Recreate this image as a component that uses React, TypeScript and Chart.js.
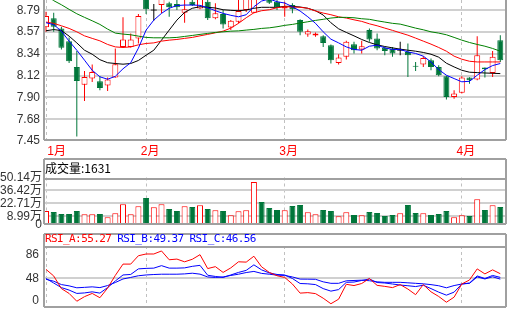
import React, { useEffect, useRef } from 'react';
import { Chart, registerables } from 'chart.js';

Chart.register(...registerables);

// ---------- data ----------
const monthLabels = ['1月', '2月', '3月', '4月'];
const monthStarts = [0, 13, 31, 54];

const opens = [8.616, 8.708, 8.605, 8.475, 8.211, 8.030, 8.092, 8.064, 8.020, 8.102,
  8.416, 8.416, 8.503, 8.920, 8.793, 8.844, 8.862, 8.855, 8.765, 8.878,
  8.810, 8.878, 8.708, 8.752, 8.615, 8.673, 8.793, 8.765, 9.050, 8.910,
  8.878, 8.810, 8.844, 8.690, 8.544, 8.533, 8.526, 8.434, 8.252, 8.314,
  8.444, 8.390, 8.588, 8.503, 8.406, 8.400, 8.382, 8.365, 8.223, 8.236,
  8.280, 8.211, 8.115, 7.903, 7.948, 8.102, 8.082, 8.205, 8.149, 8.485];
const highs = [8.776, 8.765, 8.622, 8.513, 8.375, 8.170, 8.236, 8.115, 8.102, 8.400,
  8.718, 8.554, 8.752, 8.930, 8.855, 8.920, 8.878, 8.900, 8.900, 8.900,
  8.930, 8.900, 8.862, 8.793, 8.690, 8.900, 8.930, 9.060, 9.070, 8.930,
  8.900, 8.878, 8.862, 8.700, 8.595, 8.564, 8.536, 8.440, 8.341, 8.478,
  8.468, 8.478, 8.605, 8.554, 8.416, 8.416, 8.468, 8.451, 8.262, 8.321,
  8.297, 8.228, 8.120, 7.972, 8.115, 8.105, 8.526, 8.205, 8.375, 8.536];
const lows = [8.571, 8.570, 8.390, 8.252, 7.499, 7.862, 8.057, 7.972, 7.965, 8.100,
  8.410, 8.410, 8.451, 8.752, 8.683, 8.759, 8.724, 8.793, 8.663, 8.834,
  8.800, 8.690, 8.698, 8.605, 8.588, 8.657, 8.773, 8.760, 8.910, 8.855,
  8.793, 8.724, 8.759, 8.536, 8.519, 8.519, 8.416, 8.246, 8.236, 8.287,
  8.349, 8.349, 8.468, 8.382, 8.331, 8.314, 8.331, 8.108, 8.170, 8.211,
  8.177, 8.115, 7.879, 7.886, 7.938, 8.040, 8.074, 8.102, 8.108, 8.262];
const closes = [8.731, 8.622, 8.406, 8.269, 8.067, 8.108, 8.160, 7.995, 8.082, 8.239,
  8.492, 8.492, 8.731, 8.800, 8.793, 8.910, 8.821, 8.821, 8.800, 8.844,
  8.920, 8.708, 8.759, 8.646, 8.683, 8.783, 8.910, 9.050, 8.950, 8.868,
  8.821, 8.827, 8.800, 8.570, 8.577, 8.554, 8.457, 8.280, 8.307, 8.468,
  8.382, 8.423, 8.492, 8.400, 8.375, 8.349, 8.382, 8.331, 8.213, 8.303,
  8.211, 8.126, 7.903, 7.938, 8.102, 8.074, 8.331, 8.187, 8.314, 8.280];

const ma5 = [8.663, 8.644, 8.577, 8.475, 8.382, 8.280, 8.177, 8.110, 8.085, 8.115,
  8.192, 8.254, 8.403, 8.588, 8.690, 8.759, 8.811, 8.839, 8.844, 8.844,
  8.841, 8.817, 8.786, 8.759, 8.739, 8.724, 8.745, 8.827, 8.885, 8.906,
  8.878, 8.865, 8.827, 8.783, 8.724, 8.657, 8.570, 8.495, 8.457, 8.416,
  8.390, 8.382, 8.423, 8.434, 8.406, 8.390, 8.390, 8.365, 8.349, 8.321,
  8.262, 8.184, 8.126, 8.092, 8.059, 8.064, 8.126, 8.184, 8.225, 8.246];
const ma10 = [8.581, 8.593, 8.583, 8.526, 8.457, 8.382, 8.341, 8.285, 8.254, 8.246,
  8.239, 8.246, 8.277, 8.331, 8.382, 8.485, 8.588, 8.690, 8.769, 8.811,
  8.827, 8.821, 8.814, 8.796, 8.790, 8.786, 8.793, 8.811, 8.821, 8.821,
  8.821, 8.831, 8.831, 8.824, 8.811, 8.786, 8.742, 8.663, 8.601, 8.564,
  8.529, 8.492, 8.461, 8.437, 8.420, 8.406, 8.393, 8.382, 8.372, 8.359,
  8.341, 8.311, 8.249, 8.211, 8.177, 8.157, 8.153, 8.149, 8.146, 8.143];
const ma20 = [8.670, 8.657, 8.632, 8.605, 8.570, 8.529, 8.503, 8.478, 8.441, 8.416,
  8.410, 8.416, 8.437, 8.451, 8.457, 8.475, 8.485, 8.492, 8.503, 8.513,
  8.529, 8.544, 8.560, 8.577, 8.608, 8.657, 8.714, 8.765, 8.786, 8.796,
  8.817, 8.827, 8.824, 8.821, 8.811, 8.783, 8.762, 8.745, 8.724, 8.711,
  8.693, 8.677, 8.652, 8.632, 8.608, 8.585, 8.560, 8.536, 8.506, 8.475,
  8.444, 8.410, 8.372, 8.321, 8.290, 8.269, 8.262, 8.262, 8.262, 8.262];
const ma60 = [8.947, 8.889, 8.847, 8.800, 8.755, 8.718, 8.683, 8.646, 8.598, 8.557,
  8.547, 8.540, 8.526, 8.513, 8.509, 8.509, 8.509, 8.513, 8.523, 8.533,
  8.544, 8.554, 8.564, 8.570, 8.577, 8.580, 8.588, 8.595, 8.605, 8.611,
  8.622, 8.636, 8.646, 8.660, 8.673, 8.687, 8.698, 8.711, 8.718, 8.718,
  8.714, 8.704, 8.698, 8.683, 8.670, 8.657, 8.649, 8.629, 8.608, 8.591,
  8.570, 8.557, 8.540, 8.513, 8.485, 8.461, 8.441, 8.423, 8.400, 8.372];

// volume in 万
const volumes = [14.8, 13.8, 11.7, 11.7, 14.8, 11.3, 11.3, 11.7, 8.2, 12.4,
  21.9, 11.3, 19.8, 28.6, 18.8, 21.9, 17.0, 14.8, 19.8, 19.1,
  20.9, 17.0, 15.6, 14.8, 10.3, 14.5, 15.6, 45.3, 24.4, 18.0,
  15.9, 15.6, 20.1, 21.2, 13.5, 11.3, 15.9, 14.8, 9.2, 13.5,
  10.6, 10.3, 13.8, 12.7, 9.5, 10.6, 12.4, 21.2, 12.7, 12.4,
  10.6, 11.7, 14.8, 8.2, 10.3, 9.5, 27.2, 15.9, 20.9, 19.1];

const rsiA = [62.3, 51.7, 31.3, 23.5, 10.9, 18.3, 23.5, 16.6, 32.1, 52.5,
  70.8, 70.8, 84.3, 87.1, 87.1, 92.0, 77.8, 78.9, 74.5, 78.6,
  86.0, 63.6, 66.7, 57.4, 64.7, 74.5, 74.0, 83.5, 66.4, 57.4,
  52.0, 49.3, 38.7, 24.0, 24.8, 23.2, 15.8, 6.9, 14.2, 38.2,
  36.2, 39.5, 47.6, 36.5, 34.9, 32.9, 37.8, 30.5, 21.5, 37.8,
  26.1, 18.6, 9.3, 17.5, 38.7, 45.2, 63.1, 55.0, 61.5, 55.27];
const rsiB = [47.6, 40.3, 32.9, 28.9, 23.5, 24.3, 26.1, 24.0, 32.9, 43.5,
  53.3, 54.1, 63.1, 63.9, 64.3, 68.3, 64.3, 64.3, 64.7, 67.2,
  68.8, 52.8, 50.9, 49.3, 53.3, 57.4, 60.7, 69.6, 61.5, 56.6,
  54.1, 53.3, 47.6, 39.5, 39.0, 37.8, 31.3, 27.2, 29.7, 41.4,
  41.9, 44.4, 46.8, 41.1, 40.3, 38.7, 37.0, 35.9, 34.6, 36.7,
  31.3, 25.6, 20.7, 25.6, 38.7, 40.3, 51.7, 47.6, 52.5, 49.37];
const rsiC = [46.3, 43.2, 37.8, 35.7, 32.6, 33.3, 34.1, 32.9, 36.2, 41.1,
  46.8, 49.3, 52.0, 53.3, 54.0, 54.5, 54.5, 54.5, 55.0, 56.1,
  54.6, 50.1, 49.3, 50.1, 52.5, 54.5, 57.2, 59.0, 55.8, 54.5,
  53.0, 52.5, 50.1, 46.6, 46.5, 46.3, 42.2, 39.8, 39.8, 43.9,
  44.4, 44.9, 44.0, 42.2, 41.4, 41.4, 41.4, 40.6, 39.8, 39.0,
  37.7, 35.9, 32.6, 36.2, 38.7, 39.8, 50.1, 46.8, 50.4, 46.56];

const priceTicks = [7.4533, 7.6761, 7.8989, 8.1217, 8.3445, 8.5673, 8.7901];
const volumeTicks = [0, 8.99, 22.71, 36.42, 50.14];
const rsiTicks = [0, 48, 86];

// ---------- styles ----------
const FONT = '"Liberation Sans", "Noto Sans CJK SC", Arial, sans-serif';
const RED = '#ff0000';
const GREEN = '#00763a';
const MA_GREEN = '#008000';
const BLUE = '#0000ff';
const GRID = '#d0d0d0';
const DASH = '#c0c0c0';
const FRAME = '#a0a0a0';
const LABEL = '#333333';
const X_MIN = -0.39;
const X_MAX = 59.87;

const framePlugin = {
  id: 'frame',
  afterDraw(chart: any, _a: any, opts: any) {
    const { ctx, chartArea: a } = chart;
    const w = opts.width || 2;
    ctx.save();
    ctx.strokeStyle = opts.color || FRAME;
    ctx.lineWidth = w;
    const L = Math.round(a.left) + w / 2;
    const R = Math.round(a.right) - w / 2;
    const B = Math.round(a.bottom) - w / 2;
    const T = Math.round(a.top) + w / 2;
    ctx.beginPath();
    if (opts.header != null) {
      const H = opts.header + w / 2;
      ctx.moveTo(L, H); ctx.lineTo(R, H);
      ctx.moveTo(L, H); ctx.lineTo(L, B);
      ctx.moveTo(R, H); ctx.lineTo(R, B);
      ctx.moveTo(L, T); ctx.lineTo(R, T);
    } else {
      ctx.moveTo(L, a.top); ctx.lineTo(L, B);
      ctx.moveTo(R, a.top); ctx.lineTo(R, B);
    }
    ctx.moveTo(L, B); ctx.lineTo(R, B);
    ctx.stroke();
    ctx.restore();
  },
};

const isUp = (i: number) => closes[i] > opens[i];
const isDoji = (i: number) => closes[i] === opens[i];
const candleColor = (i: number) => (isDoji(i) ? '#000000' : isUp(i) ? RED : GREEN);

function xAxis(height: number, showLabels: boolean): any {
  return {
    type: 'linear',
    min: X_MIN,
    max: X_MAX,
    bounds: 'data',
    offset: false,
    afterBuildTicks: (s: any) => { s.ticks = monthStarts.map((v) => ({ value: v })); },
    afterFit: (s: any) => { s.height = height; s.paddingLeft = 0; s.paddingRight = 0; },
    grid: { offset: false, color: DASH, lineWidth: 1, drawTicks: false, borderDash: [3, 3] },
    border: { display: false, dash: [3, 3] },
    ticks: showLabels
      ? {
          display: true,
          autoSkip: false,
          maxRotation: 0,
          color: RED,
          padding: 3,
          labelOffset: 4,
          font: { family: FONT, size: 12 },
          callback: (_v: any, i: number) => (i === 0 ? '    ' + monthLabels[0] : monthLabels[i]),
        }
      : { display: false },
  };
}

function yAxis(min: number, max: number, ticks: number[], fmt: (v: number) => any, gridColor: (v: number) => string, pad: number): any {
  return {
    type: 'linear',
    min,
    max,
    bounds: 'data',
    afterBuildTicks: (s: any) => { s.ticks = ticks.map((v) => ({ value: v })); },
    afterFit: (s: any) => { s.width = 43; s.paddingTop = 0; s.paddingBottom = 0; },
    grid: {
      drawTicks: false,
      lineWidth: 2,
      color: (ctx: any) => gridColor(ctx.tick ? ctx.tick.value : NaN),
    },
    border: { display: false },
    ticks: {
      autoSkip: false,
      color: LABEL,
      padding: pad,
      font: { family: FONT, size: 12 },
      callback: (v: any) => fmt(Number(v)),
    },
  };
}

const common: any = {
  responsive: false,
  maintainAspectRatio: false,
  animation: false,
  devicePixelRatio: 1,
  events: [],
};

export default function App() {
  const mainRef = useRef<HTMLCanvasElement>(null);
  const volRef = useRef<HTMLCanvasElement>(null);
  const rsiRef = useRef<HTMLCanvasElement>(null);

  useEffect(() => {
    document.body.style.margin = '0';
    const charts: Chart[] = [];

    const idx = opens.map((_, i) => i);
    const line = (data: number[], color: string, order: number) => ({
      type: 'line',
      data: data.map((v, i) => ({ x: i, y: v })),
      borderColor: color,
      borderWidth: 1,
      pointRadius: 0,
      tension: 0,
      fill: false,
      order,
    });

    // main candlestick
    charts.push(new Chart(mainRef.current as HTMLCanvasElement, {
      type: 'bar',
      data: {
        datasets: [
          {
            type: 'bar',
            data: idx.map((i) => ({ x: i, y: [lows[i], highs[i]] })),
            backgroundColor: idx.map(candleColor),
            borderWidth: 0,
            grouped: false,
            categoryPercentage: 1,
            barPercentage: 1,
            maxBarThickness: 1,
            inflateAmount: 0,
            clip: 0,
            order: 3,
          },
          {
            type: 'bar',
            data: idx.map((i) => {
              let lo = Math.min(opens[i], closes[i]);
              let hi = Math.max(opens[i], closes[i]);
              if (hi - lo < 0.006) { lo = opens[i] - 0.004; hi = opens[i] + 0.004; }
              return { x: i, y: [lo, hi] };
            }),
            backgroundColor: idx.map((i) => (isDoji(i) ? '#000000' : isUp(i) ? '#ffffff' : GREEN)),
            borderColor: idx.map(candleColor),
            borderWidth: idx.map((i) => (isDoji(i) ? 0 : 1)),
            borderSkipped: false,
            grouped: false,
            categoryPercentage: 1,
            barPercentage: 1,
            maxBarThickness: 6,
            inflateAmount: 0,
            clip: 0,
            order: 2,
          },
          line(ma60, MA_GREEN, 1),
          line(ma20, RED, 1),
          line(ma10, '#000000', 1),
          line(ma5, BLUE, 0),
        ] as any,
      },
      options: {
        ...common,
        layout: { padding: { left: 0, right: 11, top: 0, bottom: 0 } },
        plugins: { legend: { display: false }, tooltip: { enabled: false }, frame: { width: 2 } } as any,
        scales: {
          x: xAxis(17, true),
          y: yAxis(7.4533, 8.8957, priceTicks, (v) => v.toFixed(2), (v) => (v < 7.5 ? 'rgba(0,0,0,0)' : GRID), 3),
        },
      },
      plugins: [framePlugin],
    } as any));

    // volume
    charts.push(new Chart(volRef.current as HTMLCanvasElement, {
      type: 'bar',
      data: {
        datasets: [
          {
            data: volumes.map((v, i) => ({ x: i, y: v })),
            backgroundColor: idx.map((i) => (closes[i] >= opens[i] ? '#ffffff' : GREEN)),
            borderColor: idx.map((i) => (closes[i] >= opens[i] ? RED : GREEN)),
            borderWidth: 1,
            borderSkipped: false,
            grouped: false,
            categoryPercentage: 1,
            barPercentage: 1,
            maxBarThickness: 6,
            inflateAmount: 0,
          },
        ] as any,
      },
      options: {
        ...common,
        layout: { padding: { left: 0, right: 11, top: 19.5, bottom: 0 } },
        plugins: { legend: { display: false }, tooltip: { enabled: false }, frame: { width: 2, header: 0 } } as any,
        scales: {
          x: xAxis(8, false),
          y: yAxis(0, 50.14, volumeTicks, (v) => (v === 0 ? '0' : v.toFixed(2) + '万'),
            (v) => (v > 1 && v < 50 ? GRID : 'rgba(0,0,0,0)'), 1),
        },
      },
      plugins: [framePlugin],
    } as any));

    // RSI
    charts.push(new Chart(rsiRef.current as HTMLCanvasElement, {
      type: 'line',
      data: {
        datasets: [
          line(rsiC, BLUE, 2),
          line(rsiB, BLUE, 1),
          line(rsiA, RED, 0),
        ] as any,
      },
      options: {
        ...common,
        layout: { padding: { left: 0, right: 11, top: 13, bottom: 0 } },
        plugins: { legend: { display: false }, tooltip: { enabled: false }, frame: { width: 2, header: 0 } } as any,
        scales: {
          x: xAxis(6, false),
          y: yAxis(0, 100, rsiTicks, (v) => (v === 0 ? ['0', ''] : String(v)),
            (v) => (v === 48 ? GRID : 'rgba(0,0,0,0)'), 4),
        },
      },
      plugins: [framePlugin],
    } as any));

    return () => charts.forEach((c) => c.destroy());
  }, []);

  return (
    <div style={{ position: 'relative', width: 518, height: 314, overflow: 'hidden', background: '#ffffff' }}>
      <canvas ref={mainRef} width={518} height={158} style={{ position: 'absolute', left: 0, top: 0, width: 518, height: 158 }} />
      <canvas ref={volRef} width={518} height={75} style={{ position: 'absolute', left: 0, top: 158, width: 518, height: 75 }} />
      <canvas ref={rsiRef} width={518} height={81} style={{ position: 'absolute', left: 0, top: 233, width: 518, height: 81 }} />
      <div style={{ position: 'absolute', left: 45, top: 158, height: 20, lineHeight: '20px', fontFamily: '"Noto Sans CJK SC", sans-serif', fontSize: 12, color: '#000', whiteSpace: 'pre' }}>
        成交量:1631
      </div>
      <div style={{ position: 'absolute', left: 45, top: 232, height: 13, lineHeight: '13px', fontFamily: '"DejaVu Sans Mono", monospace', fontSize: 11, letterSpacing: '-0.6px', whiteSpace: 'pre' }}>
        <span style={{ color: RED }}>RSI_A:55.27</span> <span style={{ color: BLUE }}>RSI_B:49.37</span> <span style={{ color: BLUE }}>RSI_C:46.56</span>
      </div>
    </div>
  );
}
